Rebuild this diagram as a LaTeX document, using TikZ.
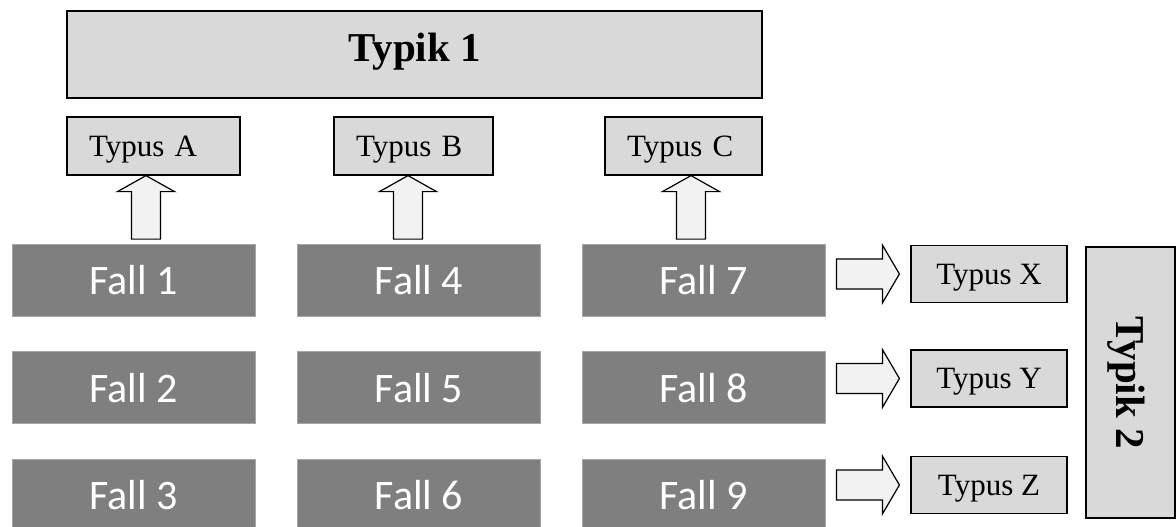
\documentclass[tikz,border=0pt]{standalone}
\usepackage{fontspec}
\setmainfont{Liberation Serif}
\newfontfamily\fallfont{Carlito}
\definecolor{boxgray}{HTML}{D9D9D9}
\definecolor{arrowfill}{HTML}{F2F2F2}
\definecolor{fallgray}{HTML}{7F7F7F}
\definecolor{fallborder}{HTML}{A6A6A6}
\begin{document}
\begin{tikzpicture}[x=1pt,y=-1pt,
  typbox/.style={draw=black, line width=1.2pt, fill=boxgray, inner sep=0pt},
  typusbox/.style={typbox, minimum height=58pt, inner xsep=22pt, align=left,
    font=\fontsize{31}{36}\selectfont, text depth=0pt},
  typusright/.style={typbox, minimum width=156pt, minimum height=57pt,
    font=\fontsize{31}{36}\selectfont, text depth=0pt},
  fallbox/.style={draw=fallborder, line width=0.8pt, fill=fallgray, text=white,
    minimum width=243pt, minimum height=72pt, inner sep=0pt,
    font=\fallfont\fontsize{42}{50}\selectfont, text depth=0pt},
  blockarrow/.style={draw=black, line width=1.2pt, fill=arrowfill, line join=miter},
  uparrow/.pic={\draw[blockarrow] (0,0) -- (28.5,16) -- (14.5,16) -- (14.5,63.5)
      -- (-14.5,63.5) -- (-14.5,16) -- (-28.5,16) -- cycle;},
  rightarrow/.pic={\draw[blockarrow] (0,0) -- (-17,-29) -- (-17,-15) -- (-63,-15)
      -- (-63,15) -- (-17,15) -- (-17,29) -- cycle;}
]
\clip (0,0) rectangle (1176,527);
\fill[white] (0,0) rectangle (1176,527);

% Typik 1
\node[typbox, minimum width=695pt, minimum height=87pt, text depth=14pt,
  font=\bfseries\fontsize{41}{48}\selectfont] (typ1) at (414.5,54.5) {Typik 1};

% Typus A, B, C
\node[typusbox, text width=129pt] (tA) at (153.5,146) {Typus A};
\node[typusbox, text width=115pt] (tB) at (413.5,146) {Typus B};
\node[typusbox, text width=113pt] (tC) at (683.5,146) {Typus C};

% Faelle
\node[fallbox] (f1) at (133.5,280) {Fall 1};
\node[fallbox] (f2) at (133.5,387.5) {Fall 2};
\node[fallbox] (f3) at (133.5,495) {Fall 3};
\node[fallbox] (f4) at (419,280) {Fall 4};
\node[fallbox] (f5) at (419,387.5) {Fall 5};
\node[fallbox] (f6) at (419,495) {Fall 6};
\node[fallbox] (f7) at (703.5,280) {Fall 7};
\node[fallbox] (f8) at (703.5,387.5) {Fall 8};
\node[fallbox] (f9) at (703.5,495) {Fall 9};

% Typus X, Y, Z
\node[typusright] (tX) at (989,274) {Typus X};
\node[typusright] (tY) at (989,378.5) {Typus Y};
\node[typusright] (tZ) at (989,485) {Typus Z};

% Typik 2
\node[typbox, minimum width=89pt, minimum height=271pt] (typ2) at (1130.5,382.5) {};
\node[rotate=-90, font=\bfseries\fontsize{41}{48}\selectfont, text depth=0pt, inner sep=0pt]
  (typ2label) at (typ2.center) {Typik 2};

% block arrows up
\pic at ([xshift=-7.5pt]tA.south) {uparrow};
\pic at ([xshift=-5.5pt]tB.south) {uparrow};
\pic at ([xshift=7.5pt]tC.south) {uparrow};

% block arrows right
\pic at ([xshift=-11pt]tX.west) {rightarrow};
\pic at ([xshift=-11pt]tY.west) {rightarrow};
\pic at ([xshift=-11pt]tZ.west) {rightarrow};
\end{tikzpicture}
\end{document}
